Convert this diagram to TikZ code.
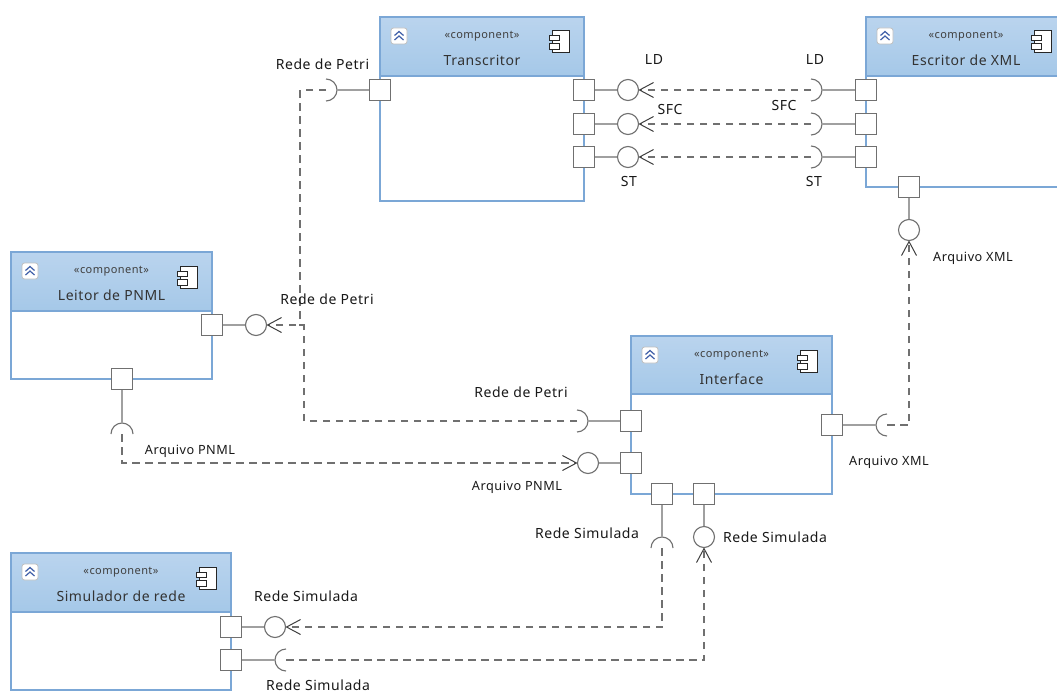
\documentclass[tikz,border=0pt]{standalone}
\usepackage{fontspec}
\setmainfont[LetterSpace=4]{Noto Sans}
\usetikzlibrary{arrows.meta,calc}
\definecolor{bordc}{HTML}{7BA7D6}
\definecolor{headtop}{HTML}{BAD4EE}
\definecolor{headbot}{HTML}{A5C8E8}
\definecolor{portc}{HTML}{707070}
\definecolor{stemc}{HTML}{A0A0A0}
\definecolor{dashc}{HTML}{707070}
\definecolor{navyc}{HTML}{3F5FA8}
\tikzset{
  x=1pt,y=-1pt,
  compbody/.style={draw=bordc,line width=1.3pt,fill=white,inner sep=0pt,outer sep=0pt},
  comphead/.style={draw=bordc,line width=1.3pt,top color=headtop,bottom color=headbot,inner sep=0pt,outer sep=0pt},
  stereo/.style={font=\fontsize{11}{12}\selectfont,text=black!75,inner sep=0pt},
  title/.style={font=\fontsize{14}{16}\selectfont,text=black!80,inner sep=0pt},
  collapsebox/.style={draw=black!25,fill=white,rounded corners=2.5pt,minimum size=16pt,inner sep=0pt,line width=.8pt},
  chev/.style={draw=navyc,line width=1.2pt},
  iconline/.style={draw=black!85,line width=1pt,fill=white},
  portbox/.style={draw=portc,line width=1.7pt,fill=white,minimum size=21pt,inner sep=0pt,outer sep=0pt},
  lolly/.style={circle,draw=portc,line width=1.1pt,fill=white,minimum size=21pt,inner sep=0pt,outer sep=0pt},
  stem/.style={draw=stemc,line width=1.8pt},
  sockline/.style={draw=portc,line width=1.1pt},
  dep/.style={draw=dashc,line width=1.8pt,dash pattern=on 7.5pt off 5.5pt},
  depa/.style={dep,-{Straight Barb[length=14pt,width=15pt,line width=1pt,color=black!75]}},
  lab/.style={font=\fontsize{14}{16}\selectfont,text=black!90,inner sep=0pt},
  labn/.style={font=\fontsize{12.7}{15}\selectfont,text=black!90,inner sep=0pt},
}
\newcommand{\comp}[7]{% name, cx, top, width, height, head height, title
  \node[compbody,minimum width=#4pt,minimum height=#5pt,anchor=north] (#1) at (#2,#3) {};
  \node[comphead,minimum width=#4pt,minimum height=#6pt,anchor=north] (#1-h) at (#2,#3) {};
  \node[stereo] (#1-s) at ($(#1.north)+(0,19)$) {«component»};
  \node[title] (#1-t) at ($(#1.north)+(0,43)$) {#7};
  \node[collapsebox] (#1-c) at ($(#1.north west)+(19,19)$) {};
  \draw[chev] ($(#1-c.center)+(-4.5,-0.5)$) -- ($(#1-c.center)+(0,-4.5)$) -- ($(#1-c.center)+(4.5,-0.5)$);
  \draw[chev] ($(#1-c.center)+(-4.5,4)$) -- ($(#1-c.center)+(0,0)$) -- ($(#1-c.center)+(4.5,4)$);
  \coordinate (#1-i) at ($(#1.north east)+(-25,25)$);
  \draw[iconline] ($(#1-i)+(-7,-11)$) rectangle ($(#1-i)+(10,11)$);
  \draw[iconline] ($(#1-i)+(-10,-6)$) rectangle ($(#1-i)+(0,-1)$);
  \draw[iconline] ($(#1-i)+(-10,2)$) rectangle ($(#1-i)+(0,8)$);
}
\newcommand{\sock}[4]{% name, x, y, canvas angle of apex
  \coordinate (#1) at (#2,#3);
  \coordinate (#1-a) at ([shift={(#4:11pt)}]#1);
  \draw[sockline] ([shift={(#4-90:11pt)}]#1) arc[start angle=#4-90,end angle=#4+90,radius=11pt];
}
\begin{document}
\begin{tikzpicture}
\useasboundingbox (0,0) rectangle (1057,693);
\clip (0,0) rectangle (1057,693);
\fill[white] (0,0) rectangle (1057,693);

\comp{trans}{482}{17}{204}{184}{59}{Transcritor}
\comp{escr}{966}{17}{200}{170}{59}{Escritor de XML}
\comp{leitor}{111.5}{252}{201}{127}{59}{Leitor de PNML}
\comp{inter}{731.5}{336}{201}{158}{58}{Interface}
\comp{simul}{121}{553}{220}{137}{59}{Simulador de rede}

% sockets
\sock{sT}{326}{90}{0}
\sock{s1}{811}{90}{0}
\sock{s2}{811}{124}{0}
\sock{s3}{811}{157}{0}
\sock{sL}{122}{434}{90}
\sock{sI}{577}{421}{0}
\sock{sR}{887}{425}{180}
\sock{sB}{662}{548}{90}
\sock{sS}{286}{660}{180}

% stem anchors
\coordinate (aT) at (380,90);
\coordinate (aR1) at (584,90);
\coordinate (aR2) at (584,124);
\coordinate (aR3) at (584,157);
\coordinate (aE1) at (866,90);
\coordinate (aE2) at (866,124);
\coordinate (aE3) at (866,157);
\coordinate (aE4) at (909,187);
\coordinate (aL1) at (212,325);
\coordinate (aL2) at (122,379);
\coordinate (aI1) at (631,421);
\coordinate (aI2) at (631,463);
\coordinate (aI3) at (832,425);
\coordinate (aI4) at (662,494);
\coordinate (aI5) at (704,494);
\coordinate (aS1) at (231,627);
\coordinate (aS2) at (231,660);
\coordinate (b1) at (628,90);
\coordinate (b2) at (628,124);
\coordinate (b3) at (628,157);
\coordinate (bE) at (909,230);
\coordinate (bL) at (256,325);
\coordinate (bP) at (588,463);
\coordinate (bB) at (704,537);
\coordinate (bS) at (275,627);

% stems
\draw[stem] (aT) -- (sT-a);
\draw[stem] (aR1) -- (b1);
\draw[stem] (aR2) -- (b2);
\draw[stem] (aR3) -- (b3);
\draw[stem] (aE1) -- (s1-a);
\draw[stem] (aE2) -- (s2-a);
\draw[stem] (aE3) -- (s3-a);
\draw[stem] (aE4) -- (bE);
\draw[stem] (aL1) -- (bL);
\draw[stem] (aL2) -- (sL-a);
\draw[stem] (aI1) -- (sI-a);
\draw[stem] (aI2) -- (bP);
\draw[stem] (aI3) -- (sR-a);
\draw[stem] (aI4) -- (sB-a);
\draw[stem] (aI5) -- (bB);
\draw[stem] (aS1) -- (bS);
\draw[stem] (aS2) -- (sS-a);

% ports
\node[portbox] (pT)  at (aT) {};
\node[portbox] (pR1) at (aR1) {};
\node[portbox] (pR2) at (aR2) {};
\node[portbox] (pR3) at (aR3) {};
\node[portbox] (pE1) at (aE1) {};
\node[portbox] (pE2) at (aE2) {};
\node[portbox] (pE3) at (aE3) {};
\node[portbox] (pE4) at (aE4) {};
\node[portbox] (pL1) at (aL1) {};
\node[portbox] (pL2) at (aL2) {};
\node[portbox] (pI1) at (aI1) {};
\node[portbox] (pI2) at (aI2) {};
\node[portbox] (pI3) at (aI3) {};
\node[portbox] (pI4) at (aI4) {};
\node[portbox] (pI5) at (aI5) {};
\node[portbox] (pS1) at (aS1) {};
\node[portbox] (pS2) at (aS2) {};

% interface circles
\node[lolly] (c1) at (b1) {};
\node[lolly] (c2) at (b2) {};
\node[lolly] (c3) at (b3) {};
\node[lolly] (cE) at (bE) {};
\node[lolly] (cL) at (bL) {};
\node[lolly] (cP) at (bP) {};
\node[lolly] (cB) at (bB) {};
\node[lolly] (cS) at (bS) {};

% dependencies
\draw[depa] (s1) -- (c1.east);
\draw[depa] (s2) -- (c2.east);
\draw[depa] (s3) -- (c3.east);
\coordinate (jA) at (300,325);
\coordinate (jB) at (304,325);
\draw[dep,line width=1.5pt] (sT) -| (jA) -- (jB);
\draw[depa] (sI) -| (jB) -- (cL.east);
\draw[depa] (sL) |- (cP.west);
\draw[depa] (sR) -| (cE.south);
\draw[depa] (sB) |- (cS.east);
\draw[depa] (sS) -| (cB.south);

% labels
\node[lab] (l1)  at (322.5,64) {Rede de Petri};
\node[lab] (l2)  at (654,60) {LD};
\node[lab] (l3)  at (670,110) {SFC};
\node[lab] (l4)  at (629,182) {ST};
\node[lab] (l5)  at (815,60) {LD};
\node[lab] (l6)  at (784,106) {SFC};
\node[lab] (l7)  at (814,182) {ST};
\node[labn] (l8)  at (973,258) {Arquivo XML};
\node[lab] (l9)  at (327,299) {Rede de Petri};
\node[lab] (l10) at (521,392) {Rede de Petri};
\node[labn] (l11) at (190,451) {Arquivo PNML};
\node[labn] (l12) at (517,487) {Arquivo PNML};
\node[labn] (l13) at (889,462) {Arquivo XML};
\node[lab] (l14) at (587,533) {Rede Simulada};
\node[lab] (l15) at (775,537) {Rede Simulada};
\node[lab] (l16) at (306,596) {Rede Simulada};
\node[lab] (l17) at (318,685) {Rede Simulada};
\end{tikzpicture}
\end{document}
